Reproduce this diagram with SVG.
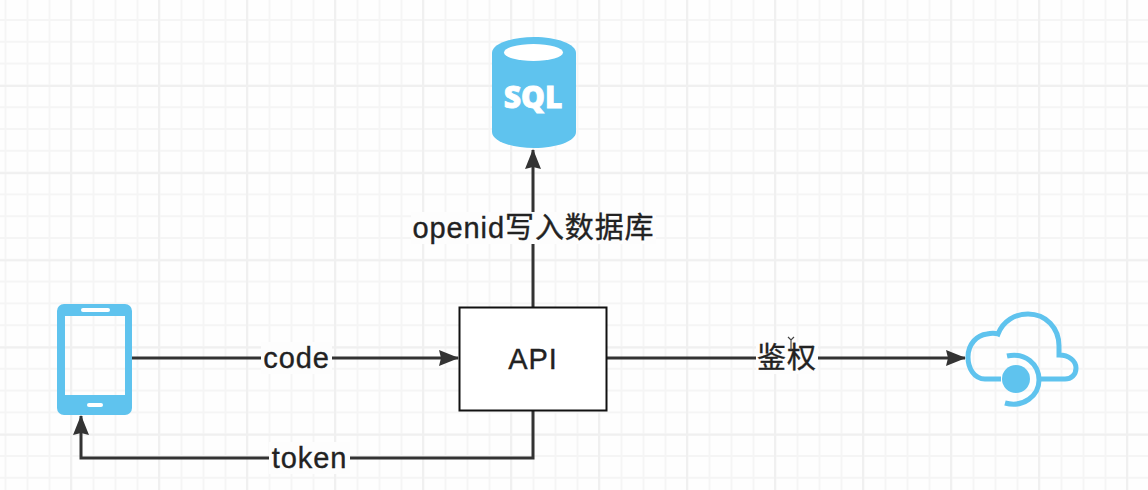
<svg xmlns="http://www.w3.org/2000/svg" width="1148" height="490" viewBox="0 0 1148 490">
<defs>
<style>
.conn{stroke:#333;stroke-width:3;fill:none}
.label{font-family:"Liberation Sans","Noto Sans CJK SC",sans-serif;font-size:29px;fill:#222;stroke:#222;stroke-width:.35;text-anchor:middle;letter-spacing:.9px}
.bg{fill:#fdfdfd}
.icon{fill:#5fc3ee}
</style>
<marker id="arrow" viewBox="0 0 20 16" refX="19" refY="8" markerWidth="20" markerHeight="16" markerUnits="userSpaceOnUse" orient="auto"><path d="M0 0L20 8L0 16L2 8Z" fill="#333"/></marker>
<pattern id="minor" width="22" height="21.8" patternUnits="userSpaceOnUse" x="4.500" y="19"><path d="M1 0V21.800M0 1H22" stroke="#f5f5f5" stroke-width="2" fill="none"/></pattern>
<pattern id="maj" width="88" height="87.2" patternUnits="userSpaceOnUse" x="70" y="85"><path d="M1 0V87.200M0 1H88" stroke="#f0f0f0" stroke-width="2" fill="none"/></pattern>
</defs>
<rect width="1148" height="490" fill="#fefefe"/>
<rect width="1148" height="490" fill="url(#minor)"/>
<rect width="1148" height="490" fill="url(#maj)"/>
<g id="connectors">
<path class="conn" d="M132 358H458" marker-end="url(#arrow)"/>
<path class="conn" d="M607 358H965" marker-end="url(#arrow)"/>
<path class="conn" d="M533 307V150" marker-end="url(#arrow)"/>
<path class="conn" d="M533 410V458H81V416" marker-end="url(#arrow)"/>
<rect class="bg" x="261" y="342" width="71" height="32"/>
<rect class="bg" x="756" y="342" width="62" height="32"/>
<rect class="bg" x="411" y="212" width="245" height="32"/>
<rect class="bg" x="269" y="442" width="81" height="32"/>
<text class="label" x="296.500" y="368">code</text>
<text class="label" x="787" y="368">鉴权</text>
<text class="label" x="533.500" y="238">openid写入数据库</text>
<text class="label" x="309.500" y="468">token</text>
</g>
<g id="api">
<rect x="459.500" y="307.500" width="147" height="103" fill="#fff" stroke="#111" stroke-width="2"/>
<text class="label" x="533" y="369">API</text>
</g>
<g id="sql">
<path class="icon" d="M492 53C492 44 511 37 534 37C557 37 576 44 576 53V132C576 141 557 148 534 148C511 148 492 141 492 132Z"/>
<ellipse cx="533.500" cy="52.500" rx="29.500" ry="8.500" fill="#fff"/>
<text x="533" y="108" font-family="Open Sans,Liberation Sans,sans-serif" font-size="30" font-weight="800" fill="#fff" stroke="#fff" stroke-width=".8" text-anchor="middle">SQL</text>
</g>
<g id="phone">
<path class="icon" fill-rule="evenodd" d="M64 304H125A7 7 0 0 1 132 311V408A7 7 0 0 1 125 415H64A7 7 0 0 1 57 408V311A7 7 0 0 1 64 304ZM65 316V395H125V316Z"/>
<rect x="81" y="308" width="29" height="4" rx="2" fill="#fff"/>
<rect x="87" y="403" width="16" height="4" rx="2" fill="#fff"/>
</g>
<g id="cloud">
<path d="M1001 379H985C974 379 968 368 968 357C968 344 977 335 987 334C991 333 995 333 998 334C1003 321 1015 314 1028 314C1046 314 1059 328 1059 346V355C1069 355 1076 361 1076 368C1076 375 1071 379 1065 379H1040" fill="none" stroke="#5fc3ee" stroke-width="5"/>
<path d="M1007 356C1025 352 1039 364 1039 380C1039 396 1023 408 1005 403" fill="none" stroke="#5fc3ee" stroke-width="5"/>
<circle class="icon" cx="1016" cy="379" r="14"/>
</g>
<path id="cursor" d="M788 337L791 340L794 337M791 340V350" fill="none" stroke="#444" stroke-width="1.200"/>
</svg>
